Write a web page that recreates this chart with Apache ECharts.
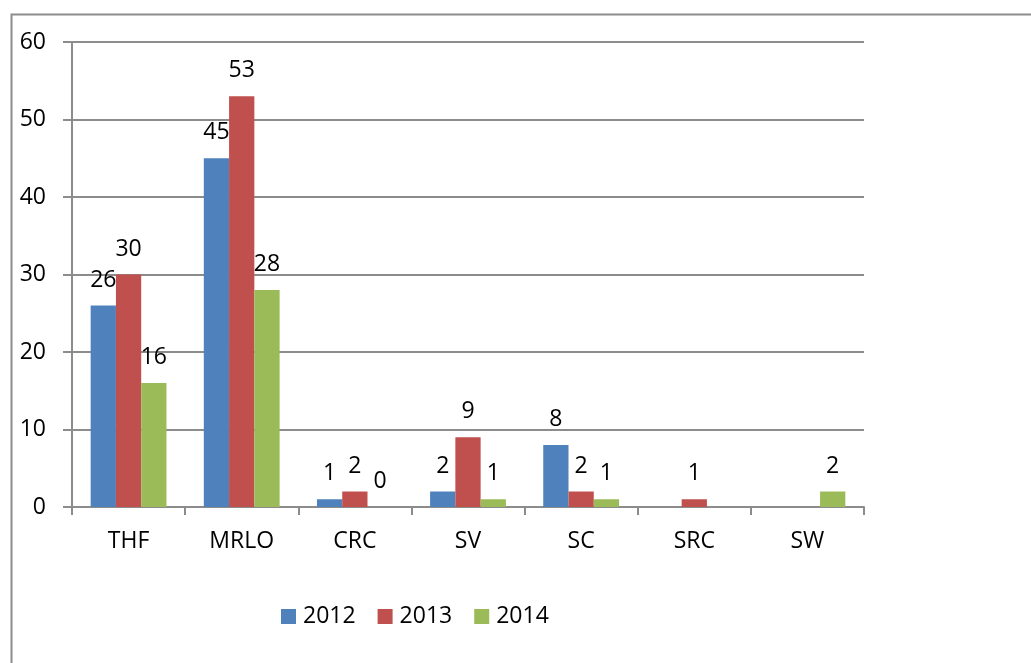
<!DOCTYPE html>
<html>
<head>
<meta charset="utf-8">
<script src="https://cdn.jsdelivr.net/npm/echarts@6/dist/echarts.min.js"></script>
<style>
  html, body { margin: 0; padding: 0; background: #fff; }
  #chart { width: 1031px; height: 663px; }
</style>
</head>
<body>
<div id="chart"></div>
<script>
const categories = ['THF', 'MRLO', 'CRC', 'SV', 'SC', 'SRC', 'SW'];
const yearNames = ['2012', '2013', '2014'];
const values2012 = [26, 45, 1, 2, 8, null, null];
const values2013 = [30, 53, 2, 9, 2, 1, null];
const values2014 = [16, 28, 0, 1, 1, null, 2];
const yTicks = { min: 0, max: 60, interval: 10 };

const colors = ['#4F81BD', '#C0504D', '#9BBB59'];
const font = '"Open Sans", "Liberation Sans", sans-serif';
const gray = '#8c8c8c';

const myChart = echarts.init(document.getElementById('chart'));

const makeSeries = (name, data, color) => ({
  name: name,
  type: 'bar',
  data: data,
  barGap: '0%',
  barCategoryGap: '33%',
  itemStyle: { color: color },
  label: {
    show: true,
    position: 'top',
    distance: 14,
    color: '#000',
    fontSize: 23,
    fontFamily: font
  }
});

const option = {
  animation: false,
  color: colors,
  graphic: [
    {
      type: 'rect',
      left: 9,
      top: 12,
      shape: { width: 1200, height: 800 },
      style: { fill: 'none', stroke: gray, lineWidth: 2 },
      silent: true
    }
  ],
  grid: {
    left: 72,
    right: 167,
    top: 42,
    bottom: 156
  },
  legend: {
    left: 276,
    top: 600,
    itemWidth: 15,
    itemHeight: 15,
    itemGap: 22,
    icon: 'rect',
    textStyle: { fontSize: 23, fontFamily: font, color: '#000', padding: [0, 0, 0, 2] },
    data: yearNames
  },
  xAxis: {
    type: 'category',
    data: categories,
    axisLine: { show: true, lineStyle: { color: gray, width: 2 } },
    axisTick: { show: true, length: 8, lineStyle: { color: gray, width: 2 } },
    axisLabel: { fontSize: 23, fontFamily: font, color: '#000', margin: 23 }
  },
  yAxis: {
    type: 'value',
    min: yTicks.min,
    max: yTicks.max,
    interval: yTicks.interval,
    axisLine: { show: true, lineStyle: { color: gray, width: 2 } },
    axisTick: { show: true, length: 9, lineStyle: { color: gray, width: 2 } },
    axisLabel: { fontSize: 23, fontFamily: font, color: '#000', margin: 26 },
    splitLine: { show: true, lineStyle: { color: gray, width: 2 } }
  },
  series: [
    makeSeries(yearNames[0], values2012, colors[0]),
    makeSeries(yearNames[1], values2013, colors[1]),
    makeSeries(yearNames[2], values2014, colors[2])
  ]
};

myChart.setOption(option);
</script>
</body>
</html>
